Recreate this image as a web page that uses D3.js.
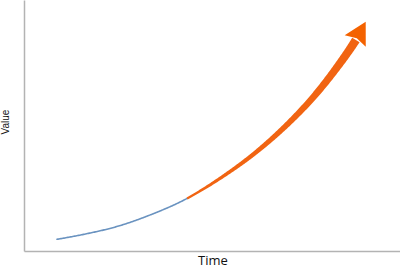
<!DOCTYPE html>
<html>
<head>
<meta charset="utf-8">
<script src="https://cdn.jsdelivr.net/npm/d3@7"></script>
<style>
  body { margin: 0; background: #fff; }
  svg { display: block; }
</style>
</head>
<body>
<div id="chart-area"></div>
<script>
// values (time 0..100, value 0..100), last point = arrow tip
var times = [8.78, 15.69, 24.73, 33.51, 43.35, 55.66, 64.55, 73.4, 80.05, 87.98, 90.88];
var values = [4.66, 6.57, 9.76, 14.34, 20.92, 32.55, 42.91, 55.5, 66.93, 83.39, 91.35];
var splitTime = 43.35; // blue -> orange
var axisLabels = ["Time", "Value"];

var width = 400,
  height = 266;

var svg = d3
  .select("#chart-area")
  .append("svg")
  .attr("width", width)
  .attr("height", height);

var x = d3.scaleLinear().domain([0, 100]).range([24, 400]);
var y = d3.scaleLinear().domain([0, 100]).range([251, 0]);

var axisColor = "#b3b3b3";

svg
  .append("g")
  .attr("transform", "translate(0,251)")
  .call(d3.axisBottom(x).tickValues([]).tickSizeOuter(0))
  .select(".domain")
  .attr("stroke", axisColor)
  .attr("stroke-width", 1.5);

svg
  .append("g")
  .attr("transform", "translate(24,0)")
  .call(d3.axisLeft(y).tickValues([]).tickSizeOuter(0))
  .select(".domain")
  .attr("stroke", axisColor)
  .attr("stroke-width", 1.5);

svg
  .append("text")
  .attr("x", 213)
  .attr("y", 265)
  .attr("text-anchor", "middle")
  .style("font-family", "'Open Sans', sans-serif")
  .style("font-size", "13px")
  .attr("fill", "#111")
  .text(axisLabels[0]);

svg
  .append("text")
  .attr("transform", "translate(9,122) rotate(-90)")
  .attr("text-anchor", "middle")
  .style("font-family", "'Liberation Sans', Arial, sans-serif")
  .style("font-size", "10px")
  .attr("fill", "#111")
  .text(axisLabels[1]);

// hidden guide curve through the data, sampled to build the shapes
var pts = times.map((t, i) => [x(t), y(values[i])]);
var line = d3.line().curve(d3.curveCatmullRom.alpha(0.5));
var guide = svg
  .append("path")
  .attr("d", line(pts))
  .attr("fill", "none")
  .attr("stroke", "none");

var node = guide.node();
var total = node.getTotalLength();
var samples = [];
for (var l = 0; l <= total; l += 1) {
  var p = node.getPointAtLength(l);
  samples.push({ l: l, x: p.x, y: p.y });
}
var end = node.getPointAtLength(total);
samples.push({ l: total, x: end.x, y: end.y });

var splitX = x(splitTime);
var headLen = 22;
var headHalf = 12;

var blue = samples.filter((s) => s.x <= splitX + 0.5);
svg
  .append("path")
  .attr("d", d3.line()(blue.map((s) => [s.x, s.y])))
  .attr("fill", "none")
  .attr("stroke", "#6a93c0")
  .attr("stroke-width", 1.6)
  .attr("stroke-linecap", "round");

// tapered orange shaft
var orange = samples.filter((s) => s.x >= splitX - 0.5 && s.l <= total - headLen + 2);
var l0 = orange[0].l,
  l1 = orange[orange.length - 1].l;
function normalAt(l) {
  var a = node.getPointAtLength(Math.max(0, l - 2));
  var b = node.getPointAtLength(Math.min(total, l + 2));
  var dx = b.x - a.x,
    dy = b.y - a.y,
    len = Math.sqrt(dx * dx + dy * dy);
  return [-dy / len, dx / len];
}
var leftSide = [],
  rightSide = [];
orange.forEach((s) => {
  var n = normalAt(s.l);
  var w = 1.1 + ((s.l - l0) / (l1 - l0)) * 3.2;
  leftSide.push([s.x + n[0] * w, s.y + n[1] * w]);
  rightSide.push([s.x - n[0] * w, s.y - n[1] * w]);
});
svg
  .append("path")
  .attr("d", "M" + leftSide.concat(rightSide.reverse()).join("L") + "Z")
  .attr("fill", "#f16412");

// arrow head
var baseL = total - headLen;
var base = node.getPointAtLength(baseL);
var tipDir = [end.x - base.x, end.y - base.y];
var tl = Math.sqrt(tipDir[0] * tipDir[0] + tipDir[1] * tipDir[1]);
var nb = [-tipDir[1] / tl, tipDir[0] / tl];
svg
  .append("path")
  .attr(
    "d",
    "M" +
      [
        [end.x, end.y],
        [base.x + nb[0] * headHalf, base.y + nb[1] * headHalf],
        [base.x + tipDir[0] * 0.15, base.y + tipDir[1] * 0.15],
        [base.x - nb[0] * headHalf, base.y - nb[1] * headHalf]
      ].join("L") +
      "Z"
  )
  .attr("fill", "#f46200");
</script>
</body>
</html>
